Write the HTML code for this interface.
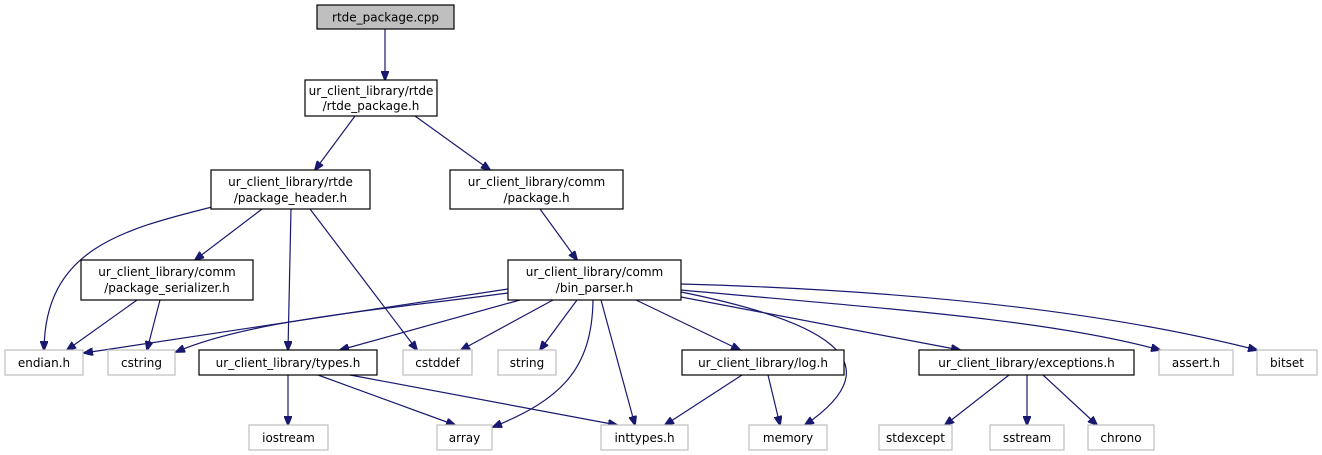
<!DOCTYPE html>
<html><head><meta charset="utf-8"><style>
html,body{margin:0;padding:0;background:#fff;}
svg{display:block;}
text{font-family:"DejaVu Sans","Liberation Sans",sans-serif;font-size:12px;fill:#000;text-anchor:middle;}
.e{fill:none;stroke:#191970;stroke-width:1.2;}
.b{fill:#fff;stroke:#000;stroke-width:1.2;}
.g{fill:#fff;stroke:#bfbfbf;stroke-width:1.2;}
</style></head><body>
<svg width="1322" height="455" viewBox="0 0 1322 455" xmlns="http://www.w3.org/2000/svg">
<defs><marker id="a" markerWidth="10" markerHeight="8" refX="9" refY="4" orient="auto" markerUnits="userSpaceOnUse"><path d="M0,0 L10,4 L0,8 Z" fill="#191970" stroke="#191970"/></marker></defs>
<g marker-end="url(#a)">
<path class="e" d="M385,29 L385,80"/>
<path class="e" d="M355,116 L315,170"/>
<path class="e" d="M415,116 L490,170"/>
<path class="e" d="M212,207 C120,230 45,250 44,350"/>
<path class="e" d="M262,209 L195,260"/>
<path class="e" d="M291,209 L288,350"/>
<path class="e" d="M310,209 L417,350"/>
<path class="e" d="M540,209 L577,260"/>
<path class="e" d="M137,300 L67,350"/>
<path class="e" d="M160,300 L147,350"/>
<path class="e" d="M508,289 L84,353"/>
<path class="e" d="M508,293 C380,310 250,320 176,352"/>
<path class="e" d="M520,300 L340,350"/>
<path class="e" d="M553,300 L461,350"/>
<path class="e" d="M577,300 L540,350"/>
<path class="e" d="M593,300 C592,370 560,400 493,427"/>
<path class="e" d="M601,300 L635,425"/>
<path class="e" d="M636,300 L740,350"/>
<path class="e" d="M681,292 C820,320 900,360 805,425"/>
<path class="e" d="M681,297 L960,350"/>
<path class="e" d="M681,290 C900,310 1050,320 1160,350"/>
<path class="e" d="M681,284 C900,290 1100,310 1257,350"/>
<path class="e" d="M288,375 L288,425"/>
<path class="e" d="M318,375 L455,425"/>
<path class="e" d="M350,375 L617,425"/>
<path class="e" d="M742,375 L665,425"/>
<path class="e" d="M768,375 L780,425"/>
<path class="e" d="M1009,375 L945,425"/>
<path class="e" d="M1027,375 L1027,425"/>
<path class="e" d="M1043,375 L1097,425"/>
</g>
<rect x="317" y="5" width="137" height="24" fill="#bfbfbf" stroke="#000" stroke-width="1.2"/><text x="385.5" y="21.5">rtde_package.cpp</text>
<rect class="b" x="305" y="80" width="132" height="36"/><text x="371" y="95">ur_client_library/rtde</text><text x="371" y="110">/rtde_package.h</text>
<rect class="b" x="211" y="170" width="159" height="39"/><text x="290.5" y="186">ur_client_library/rtde</text><text x="290.5" y="202">/package_header.h</text>
<rect class="b" x="450" y="170" width="173" height="39"/><text x="536.5" y="186">ur_client_library/comm</text><text x="536.5" y="202">/package.h</text>
<rect class="b" x="81" y="260" width="172" height="40"/><text x="167" y="276">ur_client_library/comm</text><text x="167" y="292">/package_serializer.h</text>
<rect class="b" x="508" y="260" width="173" height="40"/><text x="594.5" y="276">ur_client_library/comm</text><text x="594.5" y="292">/bin_parser.h</text>
<rect class="g" x="5" y="350" width="78" height="25"/><text x="44" y="367">endian.h</text>
<rect class="g" x="108" y="350" width="67" height="25"/><text x="141.5" y="367">cstring</text>
<rect class="b" x="199" y="350" width="178" height="25"/><text x="288" y="367">ur_client_library/types.h</text>
<rect class="g" x="403" y="350" width="69" height="25"/><text x="437.5" y="367">cstddef</text>
<rect class="g" x="498" y="350" width="58" height="25"/><text x="527" y="367">string</text>
<rect class="b" x="682" y="350" width="162" height="25"/><text x="763" y="367">ur_client_library/log.h</text>
<rect class="b" x="919" y="350" width="215" height="25"/><text x="1026.5" y="367">ur_client_library/exceptions.h</text>
<rect class="g" x="1159" y="350" width="74" height="25"/><text x="1196" y="367">assert.h</text>
<rect class="g" x="1257" y="350" width="60" height="25"/><text x="1287" y="367">bitset</text>
<rect class="g" x="249" y="425" width="79" height="25"/><text x="288.5" y="442">iostream</text>
<rect class="g" x="437" y="425" width="55" height="25"/><text x="464.5" y="442">array</text>
<rect class="g" x="601" y="425" width="87" height="25"/><text x="644.5" y="442">inttypes.h</text>
<rect class="g" x="749" y="425" width="78" height="25"/><text x="788" y="442">memory</text>
<rect class="g" x="879" y="425" width="73" height="25"/><text x="915.5" y="442">stdexcept</text>
<rect class="g" x="990" y="425" width="74" height="25"/><text x="1027" y="442">sstream</text>
<rect class="g" x="1088" y="425" width="66" height="25"/><text x="1121" y="442">chrono</text>
</svg>
</body></html>
